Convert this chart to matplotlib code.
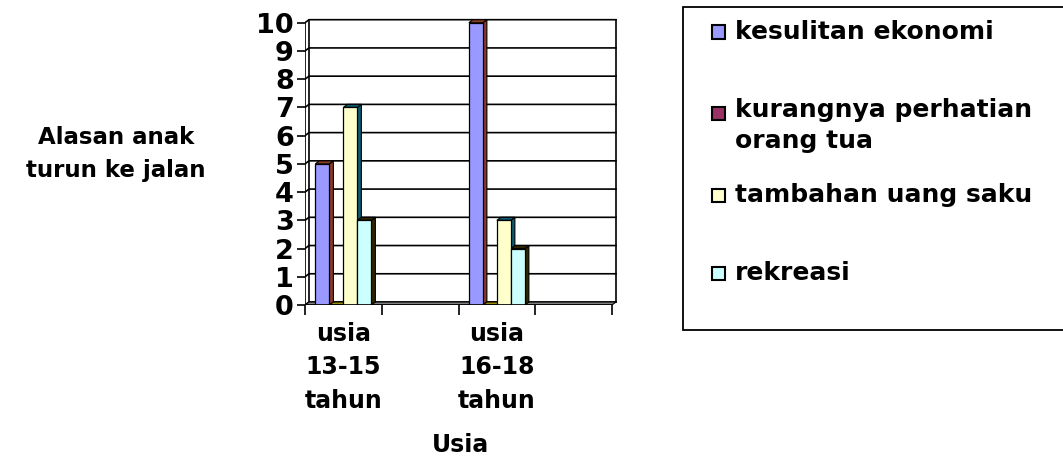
import matplotlib.pyplot as plt
from matplotlib.patches import Polygon, Rectangle

categories = ['usia\n13-15\ntahun', '', 'usia\n16-18\ntahun', '']
series = ['kesulitan ekonomi', 'kurangnya perhatian\norang tua',
          'tambahan uang saku', 'rekreasi']
values = [
    [5, 0, 10, 0],
    [0, 0, 0, 0],
    [7, 0, 3, 0],
    [3, 0, 2, 0],
]
front_colors = ['#9999FF', '#993366', '#FFFFCC', '#CCFFFF']
side_colors = ['#8B3A24', '#9A8A00', '#0E5A73', '#2E2600']
yticks = list(range(0, 11))

plt.rcParams['font.family'] = 'DejaVu Sans'
plt.rcParams['font.weight'] = 'bold'

W, H = 1063, 458
fig = plt.figure(figsize=(W / 100, H / 100), dpi=100)

# axes placed so category width ~77px, unit height ~28px
cat_px, unit_px = 76.75, 28.23
xmin, xmax = -0.5, 3.62
ymin, ymax = 0, 10.35
left, bottom_from_top = 305, 305
ax = fig.add_axes([left / W, (H - bottom_from_top) / H,
                   (xmax - xmin) * cat_px / W, (ymax - ymin) * unit_px / H])
ax.set_xlim(xmin, xmax)
ax.set_ylim(ymin, ymax)
for s in ax.spines.values():
    s.set_visible(False)

dx, dy = 4 / cat_px, 3 / unit_px
x0, x1 = -0.5, 3.5

# back wall gridlines with slanted left wall
for y in yticks:
    ax.plot([x0, x0 + dx, x1 + dx], [y, y + dy, y + dy], color='black', lw=1.2, zorder=1)
ax.plot([x0, x0], [0, 10], color='black', lw=1.2, zorder=1)
ax.plot([x0 + dx, x0 + dx], [dy, 10 + dy], color='black', lw=1.2, zorder=1)
ax.plot([x1 + dx, x1 + dx], [dy, 10 + dy], color='black', lw=1.2, zorder=1)

# floor
ax.add_patch(Polygon([(x0, 0), (x1, 0), (x1 + dx, dy), (x0 + dx, dy)],
                     closed=True, facecolor='#808080', edgecolor='black', lw=0.8, zorder=2))

n = len(series)
bw = 14 / cat_px
for i in range(n):
    xs = [c + (i - (n - 1) / 2) * bw for c in range(len(categories))]
    for x, v in zip(xs, values[i]):
        if v == 0 and i != 1:
            continue
        if v == 0 and categories[int(round(x))] == '':
            continue
        l, r = x - bw / 2, x + bw / 2
        ax.add_patch(Polygon([(r, 0), (r + dx, dy), (r + dx, v + dy), (r, v)],
                             closed=True, facecolor=side_colors[i], edgecolor='black', lw=0.8, zorder=3))
        ax.add_patch(Polygon([(l, v), (r, v), (r + dx, v + dy), (l + dx, v + dy)],
                             closed=True, facecolor=side_colors[i], edgecolor='black', lw=0.8, zorder=3))
    ax.bar(xs, values[i], width=bw, color=front_colors[i], edgecolor='black', lw=0.9, zorder=4)

# front floor edge
ax.plot([x0, x1], [0, 0], color='black', lw=1.2, zorder=5)

ax.set_yticks(yticks)
ax.set_yticklabels([str(t) for t in yticks], fontsize=19.5, fontweight='bold')
ax.tick_params(axis='y', length=6, width=1.2, pad=2)
ax.set_xticks([x0 + k for k in range(5)])
ax.set_xticklabels([])
ax.tick_params(axis='x', which='major', length=7, width=1.2)
ax.set_xticks(range(len(categories)), minor=True)
ax.set_xticklabels(categories, minor=True, fontsize=17, fontweight='bold', linespacing=1.5)
ax.tick_params(axis='x', which='minor', length=0, pad=12)

fig.text(116 / W, 1 - 154 / H, 'Alasan anak\nturun ke jalan', ha='center', va='center',
         fontsize=16.5, fontweight='bold', linespacing=1.5)
fig.text(460 / W, 1 - 445 / H, 'Usia', ha='center', va='center', fontsize=17, fontweight='bold')

# legend box
fig.patches.append(Rectangle((683 / W, 1 - 330 / H), (W + 5 - 683) / W, 323 / H,
                             transform=fig.transFigure, facecolor='white', edgecolor='black', lw=1.3))
leg_y = [32, 113, 195, 273]
for i, name in enumerate(series):
    yc = leg_y[i]
    fig.patches.append(Rectangle((712 / W, 1 - (yc + 6.5) / H), 13 / W, 13 / H,
                                 transform=fig.transFigure, facecolor=front_colors[i],
                                 edgecolor='black', lw=1.5))
    if '\n' in name:
        fig.text(735 / W, 1 - (yc - 15) / H, name, ha='left', va='top',
                 fontsize=18, fontweight='bold', linespacing=1.35)
    else:
        fig.text(735 / W, 1 - yc / H, name, ha='left', va='center', fontsize=18, fontweight='bold')

fig.savefig('out.png', dpi=100)
